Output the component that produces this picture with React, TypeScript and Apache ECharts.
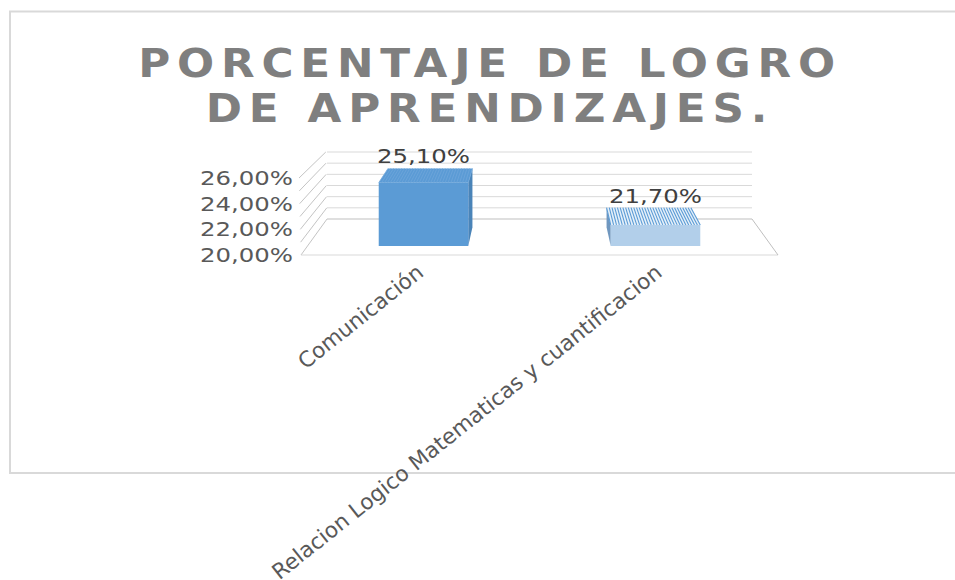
import React, { useEffect, useRef } from "react";
import * as echarts from "echarts";

const titleText = "PORCENTAJE DE LOGRO\nDE APRENDIZAJES.";
const categories = ["Comunicación", "Relacion Logico Matematicas y cuantificacion"];
const values = [25.1, 21.7];
const gridValues = [20, 21, 22, 23, 24, 25, 26];
const yMin = 20;
const yMax = 26;
const yStep = 2;

const FONT = "'DejaVu Sans'";
const pct = (v: number) => v.toFixed(2).replace(".", ",") + "%";

// perspective of the 3D box: the back wall is a scaled copy of the front plane
const BACK_X_SCALE = 425 / 477;
const BACK_Y_SHIFT = -36;
const BACK_Y_SCALE = 67 / 77;
const BAR_FRONT = 0.25;
const BAR_BACK = 0.77;
const BAR_WIDTH_SHARE = 0.0965; // half of a bar's width, as a share of the plot width

function project(x: number, y: number, t: number, cx: number, baseY: number) {
  const sx = 1 + (BACK_X_SCALE - 1) * t;
  const sy = 1 + (BACK_Y_SCALE - 1) * t;
  return [cx + (x - cx) * sx, baseY + BACK_Y_SHIFT * t + (y - baseY) * sy];
}

const lineStyle = (stroke: string, lineWidth = 1) => ({ stroke, lineWidth, fill: "none" });

export default function App() {
  const ref = useRef<HTMLDivElement>(null);
  useEffect(() => {
    const chart = echarts.init(ref.current!, undefined, { renderer: "svg" });
    chart.setOption({
      animation: false,
      backgroundColor: "#ffffff",
      title: {
        text: titleText,
        left: 485,
        top: 36,
        textAlign: "center",
        textStyle: {
          fontFamily: FONT,
          fontWeight: "bold",
          fontSize: 38.5,
          lineHeight: 45,
          color: "#7f7f7f",
        },
      },
      grid: { left: 301, top: 178, width: 477, bottom: 325, outerBoundsMode: "none" },
      xAxis: {
        type: "category",
        data: categories,
        axisLine: { show: false },
        axisTick: { show: false },
        splitLine: { show: false },
        axisLabel: {
          interval: 0,
          rotate: 38.5,
          margin: 14,
          fontFamily: FONT,
          fontSize: 21.6,
          color: "#595959",
        },
      },
      yAxis: {
        type: "value",
        min: yMin,
        max: yMax,
        interval: yStep,
        axisLine: { show: false },
        axisTick: { show: false },
        splitLine: { show: false },
        axisLabel: {
          margin: 8,
          fontFamily: FONT,
          fontSize: 20,
          color: "#595959",
          formatter: (v: number) => pct(v),
        },
      },
      graphic: [
        {
          type: "rect",
          shape: { x: 10, y: 11.5, width: 960, height: 461.5 },
          style: { fill: "none", stroke: "#d9d9d9", lineWidth: 2 },
          silent: true,
          z: 0,
        },
      ],
      series: [
        {
          type: "custom",
          coordinateSystem: "cartesian2d",
          silent: true,
          z: 1,
          data: gridValues.map((v) => [0, v]),
          clip: false,
          renderItem: (_p: any, api: any) => {
            const v = api.value(1);
            const r = _p.coordSys;
            const cx = r.x + r.width / 2;
            const baseY = r.y + r.height;
            const y = api.coord([0, v])[1];
            const back = project(r.x, y, 1, cx, baseY);
            const backR = project(r.x + r.width, y, 1, cx, baseY);
            const children: any[] = [
              {
                type: "line",
                shape: { x1: r.x - (v - yMin) * 0.33, y1: y, x2: back[0] - (v - yMin) * 0.2, y2: back[1] },
                style: lineStyle("#c4c4c4"),
              },
              {
                type: "line",
                shape: { x1: back[0], y1: back[1], x2: backR[0], y2: backR[1] },
                style: lineStyle(v === yMin ? "#bfbfbf" : "#d9d9d9"),
              },
            ];
            if (v === yMin) {
              children.push(
                { type: "line", shape: { x1: r.x, y1: y, x2: r.x + r.width, y2: y }, style: lineStyle("#d9d9d9") },
                { type: "line", shape: { x1: r.x + r.width, y1: y, x2: backR[0], y2: backR[1] }, style: lineStyle("#bfbfbf") },
              );
            }
            return { type: "group", children };
          },
        },
        {
          type: "custom",
          coordinateSystem: "cartesian2d",
          silent: true,
          z: 2,
          clip: false,
          data: values.map((v, i) => [i, v]),
          renderItem: (p: any, api: any) => {
            const i = api.value(0);
            const v = api.value(1);
            const r = p.coordSys;
            const cx = r.x + r.width / 2;
            const baseY = r.y + r.height;
            const c = api.coord([i, v]);
            const halfW = r.width * BAR_WIDTH_SHARE;
            const dark = i === 0;
            const pt = (dx: number, y: number, t: number) => project(c[0] + dx, y, t, cx, baseY);
            const fl = pt(-halfW, c[1], BAR_FRONT);
            const fr = pt(halfW, c[1], BAR_FRONT);
            const bl = pt(-halfW, c[1], BAR_BACK);
            const br = pt(halfW, c[1], BAR_BACK);
            const flb = pt(-halfW, baseY, BAR_FRONT);
            const frb = pt(halfW, baseY, BAR_FRONT);
            const blb = pt(-halfW, baseY, BAR_BACK);
            const brb = pt(halfW, baseY, BAR_BACK);
            const front = dark ? "#5b9bd5" : "#b2cfea";
            const side = dark ? "#4a84b8" : "#7097bf";
            const sidePts = c[0] < cx ? [fr, br, brb, frb] : [fl, bl, blb, flb];
            const children: any[] = [
              { type: "polygon", shape: { points: sidePts }, style: { fill: side } },
              { type: "polygon", shape: { points: [fl, fr, br, bl] }, style: { fill: dark ? "#5b9bd5" : "#e6f0f9" } },
            ];
            const stripes = 31;
            for (let s = 0; s <= stripes; s++) {
              const f = s / stripes;
              children.push({
                type: "line",
                shape: {
                  x1: bl[0] + (br[0] - bl[0]) * f,
                  y1: bl[1],
                  x2: fl[0] + (fr[0] - fl[0]) * f,
                  y2: fl[1],
                },
                style: lineStyle(dark ? "#6ea6da" : "#5b9bd5", dark ? 0.8 : 1.1),
              });
            }
            children.push({
              type: "polygon",
              shape: { points: [fl, fr, frb, flb] },
              style: { fill: front },
            });
            children.push({
              type: "text",
              style: {
                text: pct(v),
                x: (fl[0] + fr[0]) / 2,
                y: bl[1] - 12,
                align: "center",
                verticalAlign: "middle",
                fontFamily: FONT,
                fontSize: 20,
                fill: "#404040",
              },
            });
            return { type: "group", children };
          },
        },
      ],
    });

    const root = chart.getDom();
    root.querySelectorAll("text").forEach((el: any) => {
      const t = el.textContent || "";
      if (t.startsWith("PORCENTAJE") || t.startsWith("DE APREN")) {
        el.setAttribute("letter-spacing", "6");
        el.setAttribute("textLength", String(el.getComputedTextLength() * 1.135));
        el.setAttribute("lengthAdjust", "spacingAndGlyphs");
      } else if (t.endsWith("%")) {
        el.setAttribute("textLength", String(el.getComputedTextLength() * 1.22));
        el.setAttribute("lengthAdjust", "spacingAndGlyphs");
      }
    });
    return () => chart.dispose();
  }, []);
  return <div ref={ref} style={{ position: "fixed", left: 0, top: 0, width: 955, height: 580 }} />;
}
